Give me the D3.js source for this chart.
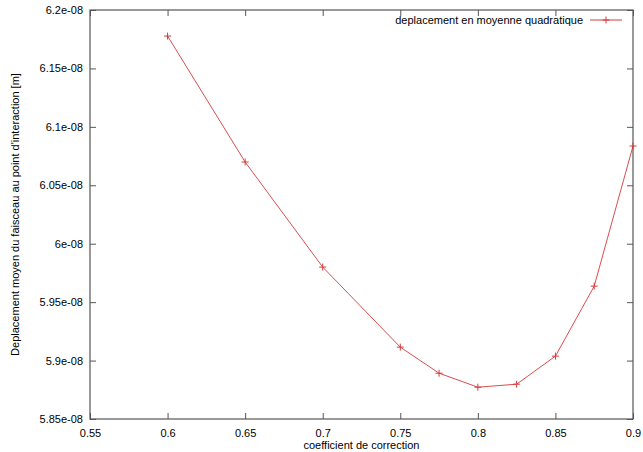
<!DOCTYPE html>
<html>
<head>
<meta charset="utf-8">
<script src="https://cdn.jsdelivr.net/npm/d3@7"></script>
<style>
  body { margin: 0; background: #fff; }
  text { font-family: "Liberation Sans", Arial, sans-serif; font-size: 11px; fill: #000; }
</style>
</head>
<body>
<svg id="chart" width="643" height="452"></svg>
<script>
const coef = [0.6, 0.65, 0.7, 0.75, 0.775, 0.8, 0.825, 0.85, 0.875, 0.9];
const deplacement = [6.1777e-8, 6.0699e-8, 5.980e-8, 5.9115e-8, 5.8892e-8, 5.8772e-8, 5.8798e-8, 5.9038e-8, 5.9637e-8, 6.0836e-8];
const xTicks = [0.55, 0.6, 0.65, 0.7, 0.75, 0.8, 0.85, 0.9];
const yTicks = [5.85e-8, 5.9e-8, 5.95e-8, 6e-8, 6.05e-8, 6.1e-8, 6.15e-8, 6.2e-8];
const yLabels = ['5.85e-08', '5.9e-08', '5.95e-08', '6e-08', '6.05e-08', '6.1e-08', '6.15e-08', '6.2e-08'];
const legendLabel = 'deplacement en moyenne quadratique';

const mLeft = 90, mRight = 633, mTop = 10, mBottom = 419;
const svg = d3.select('#chart');

const x = d3.scaleLinear().domain([0.55, 0.9]).range([mLeft, mRight]);
const y = d3.scaleLinear().domain([5.85e-8, 6.2e-8]).range([mBottom, mTop]);

const axisColor = '#555';

// bottom axis (ticks inward)
const gx = svg.append('g')
  .attr('transform', `translate(0, ${mBottom})`)
  .call(d3.axisBottom(x).tickValues(xTicks).tickSize(-6).tickPadding(10).tickFormat(d3.format('')));
// top mirror ticks
const gxt = svg.append('g')
  .attr('transform', `translate(0, ${mTop})`)
  .call(d3.axisTop(x).tickValues(xTicks).tickSize(-6).tickFormat(''));
// left axis
const gy = svg.append('g')
  .attr('transform', `translate(${mLeft}, 0)`)
  .call(d3.axisLeft(y).tickValues(yTicks).tickSize(-6).tickPadding(7)
    .tickFormat((d, i) => yLabels[i]));
// right mirror ticks
const gyr = svg.append('g')
  .attr('transform', `translate(${mRight}, 0)`)
  .call(d3.axisRight(y).tickValues(yTicks).tickSize(-6).tickFormat(''));

[gx, gxt, gy, gyr].forEach(g => {
  g.select('.domain').remove();
  g.selectAll('.tick line').attr('stroke', axisColor);
  g.selectAll('text').attr('font-size', 11).attr('font-family', '"Liberation Sans", Arial, sans-serif').attr('fill', '#000');
});

// frame
svg.append('rect')
  .attr('x', mLeft).attr('y', mTop)
  .attr('width', mRight - mLeft).attr('height', mBottom - mTop)
  .attr('fill', 'none').attr('stroke', axisColor).attr('stroke-width', 1.2);

// axis titles
svg.append('text')
  .attr('x', (mLeft + mRight) / 2).attr('y', 449)
  .attr('text-anchor', 'middle')
  .text('coefficient de correction');

svg.append('text')
  .attr('transform', `translate(19, ${(mTop + mBottom) / 2}) rotate(-90)`)
  .attr('text-anchor', 'middle')
  .text("Deplacement moyen du faisceau au point d'interaction [m]");

// data line
const pts = coef.map((c, i) => [c, deplacement[i]]);
const red = '#d43a3a';

svg.append('path')
  .datum(pts)
  .attr('fill', 'none')
  .attr('stroke', red)
  .attr('stroke-width', 0.9)
  .attr('d', d3.line().x(d => x(d[0])).y(d => y(d[1])));

svg.append('g').selectAll('path')
  .data(pts)
  .join('path')
  .attr('transform', d => `translate(${x(d[0])}, ${y(d[1])})`)
  .attr('d', 'M-3.5,0H3.5M0,-3.5V3.5')
  .attr('stroke', red)
  .attr('stroke-width', 1);

// legend
svg.append('text')
  .attr('x', 583).attr('y', 24)
  .attr('text-anchor', 'end')
  .text(legendLabel);
svg.append('line')
  .attr('x1', 590).attr('x2', 622).attr('y1', 20).attr('y2', 20)
  .attr('stroke', red);
svg.append('path')
  .attr('transform', 'translate(606, 20)')
  .attr('d', 'M-3.5,0H3.5M0,-3.5V3.5')
  .attr('stroke', red);
</script>
</body>
</html>
